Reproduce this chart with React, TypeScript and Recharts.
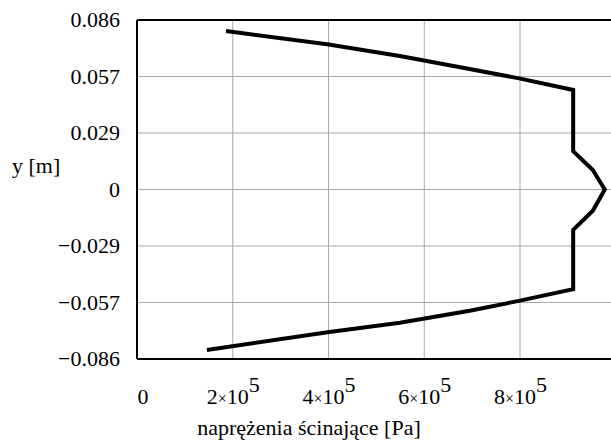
import { LineChart, Line, XAxis, YAxis, CartesianGrid, ReferenceLine } from "recharts"

// shear stress [Pa] along the profile height [m]
const stress = [186000, 397000, 549000, 675000, 798000, 911000, 911000, 952000, 977000, 952000, 911000, 911000, 800000, 695000, 549000, 398000, 146000]
const height = [0.0804, 0.0737, 0.0677, 0.062, 0.0564, 0.0505, 0.0195, 0.0099, 0, -0.0108, -0.0205, -0.0506, -0.0564, -0.0615, -0.0676, -0.0724, -0.0814]

const Y_MAX = 0.086
const X_MAX = 990000
const xTicks = [0, 200000, 400000, 600000, 800000]
const yTicks = [3, 2, 1, 0, -1, -2, -3].map((k) => (Y_MAX * k) / 3)
const yTickLabels = ["0.086", "0.057", "0.029", "0", "\u22120.029", "\u22120.057", "\u22120.086"]

const data = stress.map((s, i) => ({ x: s, y: height[i] }))

const serif = { fontFamily: "Liberation Serif" }

function XTick({ x, y, payload }: any) {
  const v = payload.value
  if (v === 0) {
    return (
      <text x={x + 6} y={y + 37} textAnchor="middle" style={serif} fontSize={22} fill="#000">
        0
      </text>
    )
  }
  return (
    <text x={x - 26} y={y + 37} textAnchor="start" style={serif} fontSize={22} fill="#000">
      {v / 100000}
      <tspan fontSize={16}>×</tspan>
      10
      <tspan dy={-12}>5</tspan>
    </text>
  )
}

function YTick({ x, y, payload, index }: any) {
  return (
    <text x={x - 9} y={y + 7} textAnchor="end" style={serif} fontSize={22} fill="#000">
      {yTickLabels[index] ?? payload.value}
    </text>
  )
}

export default function App() {
  return (
    <div style={{ position: "absolute", left: 0, top: 0, background: "#fff" }}>
      <LineChart width={611} height={444} data={data} margin={{ top: 20, right: 0, bottom: 0, left: 0 }}>
        <CartesianGrid stroke="#a8a8a8" strokeWidth={1} horizontalValues={yTicks} verticalValues={xTicks} />
        <XAxis
          dataKey="x"
          type="number"
          domain={[0, X_MAX]}
          ticks={xTicks}
          tick={<XTick />}
          tickLine={false}
          height={85}
          axisLine={{ stroke: "#000", strokeWidth: 2 }}
          interval={0}
          allowDataOverflow
        />
        <YAxis
          type="number"
          domain={[-Y_MAX, Y_MAX]}
          ticks={yTicks}
          tick={<YTick />}
          tickLine={false}
          width={137}
          axisLine={{ stroke: "#000", strokeWidth: 2 }}
          interval={0}
          allowDataOverflow
        />
        <ReferenceLine y={Y_MAX} stroke="#000" strokeWidth={2} />
        <Line
          dataKey="y"
          stroke="#000"
          strokeWidth={4}
          dot={false}
          strokeLinejoin="miter"
          isAnimationActive={false}
        />
        <text x={12} y={173} style={serif} fontSize={22} fill="#000">
          y [m]
        </text>
        <text x={309} y={435} textAnchor="middle" style={serif} fontSize={22} fill="#000">
          naprężenia ścinające [Pa]
        </text>
      </LineChart>
    </div>
  )
}
